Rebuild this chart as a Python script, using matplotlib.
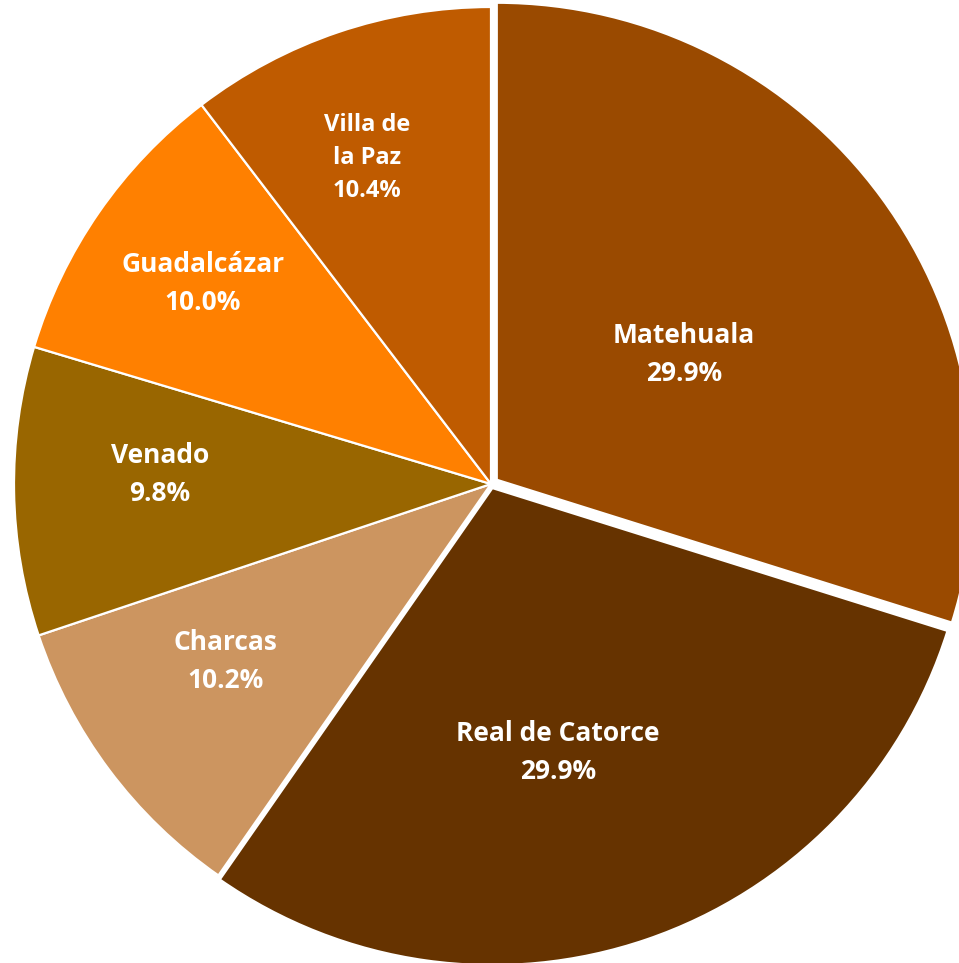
import matplotlib
matplotlib.use("Agg")
import matplotlib.pyplot as plt
import numpy as np

labels = ["Matehuala", "Real de Catorce", "Charcas", "Venado", "Guadalcázar", "Villa de\nla Paz"]
values = [29.9, 29.9, 10.2, 9.8, 10.0, 10.4]
colors = ["#9A4A00", "#663300", "#CC9560", "#996600", "#FF8000", "#BF5B00"]
explode_frac = [0.015, 0.009, 0, 0, 0, 0]
label_r = [0.472, 0.572, 0.669, 0.694, 0.736, 0.731]
label_dang = [-2.4, -4.9, -3.0, -2.5, -0.2, 2.1]
label_fs = [19, 19, 19, 19, 19, 17]
label_ls = [1.52, 1.52, 1.52, 1.52, 1.52, 1.5]

W, H = 959, 963
fig = plt.figure(figsize=(W / 100, H / 100), dpi=100)
ax = fig.add_axes([0, 0, 1, 1])
cx, cy, R = 491, H - 484, 477
wedges, _ = ax.pie(values, colors=colors, startangle=90, counterclock=False,
                   explode=[e * R for e in explode_frac], center=(cx, cy), radius=R,
                   wedgeprops=dict(edgecolor="white", linewidth=1.6))
ax.set_xlim(0, W)
ax.set_ylim(0, H)
ax.set_aspect("equal")
ax.axis("off")

for w, lab, v, r, da, fs, ls in zip(wedges, labels, values, label_r, label_dang, label_fs, label_ls):
    ang = np.deg2rad((w.theta1 + w.theta2) / 2 + da)
    x = w.center[0] + r * R * np.cos(ang)
    y = w.center[1] + r * R * np.sin(ang)
    ax.text(x, y, f"{lab}\n{v:.1f}%", ha="center", va="center", color="white",
            fontsize=fs, fontweight="bold", family=["Open Sans", "DejaVu Sans"],
            linespacing=ls)

fig.savefig("out.png", dpi=100)
